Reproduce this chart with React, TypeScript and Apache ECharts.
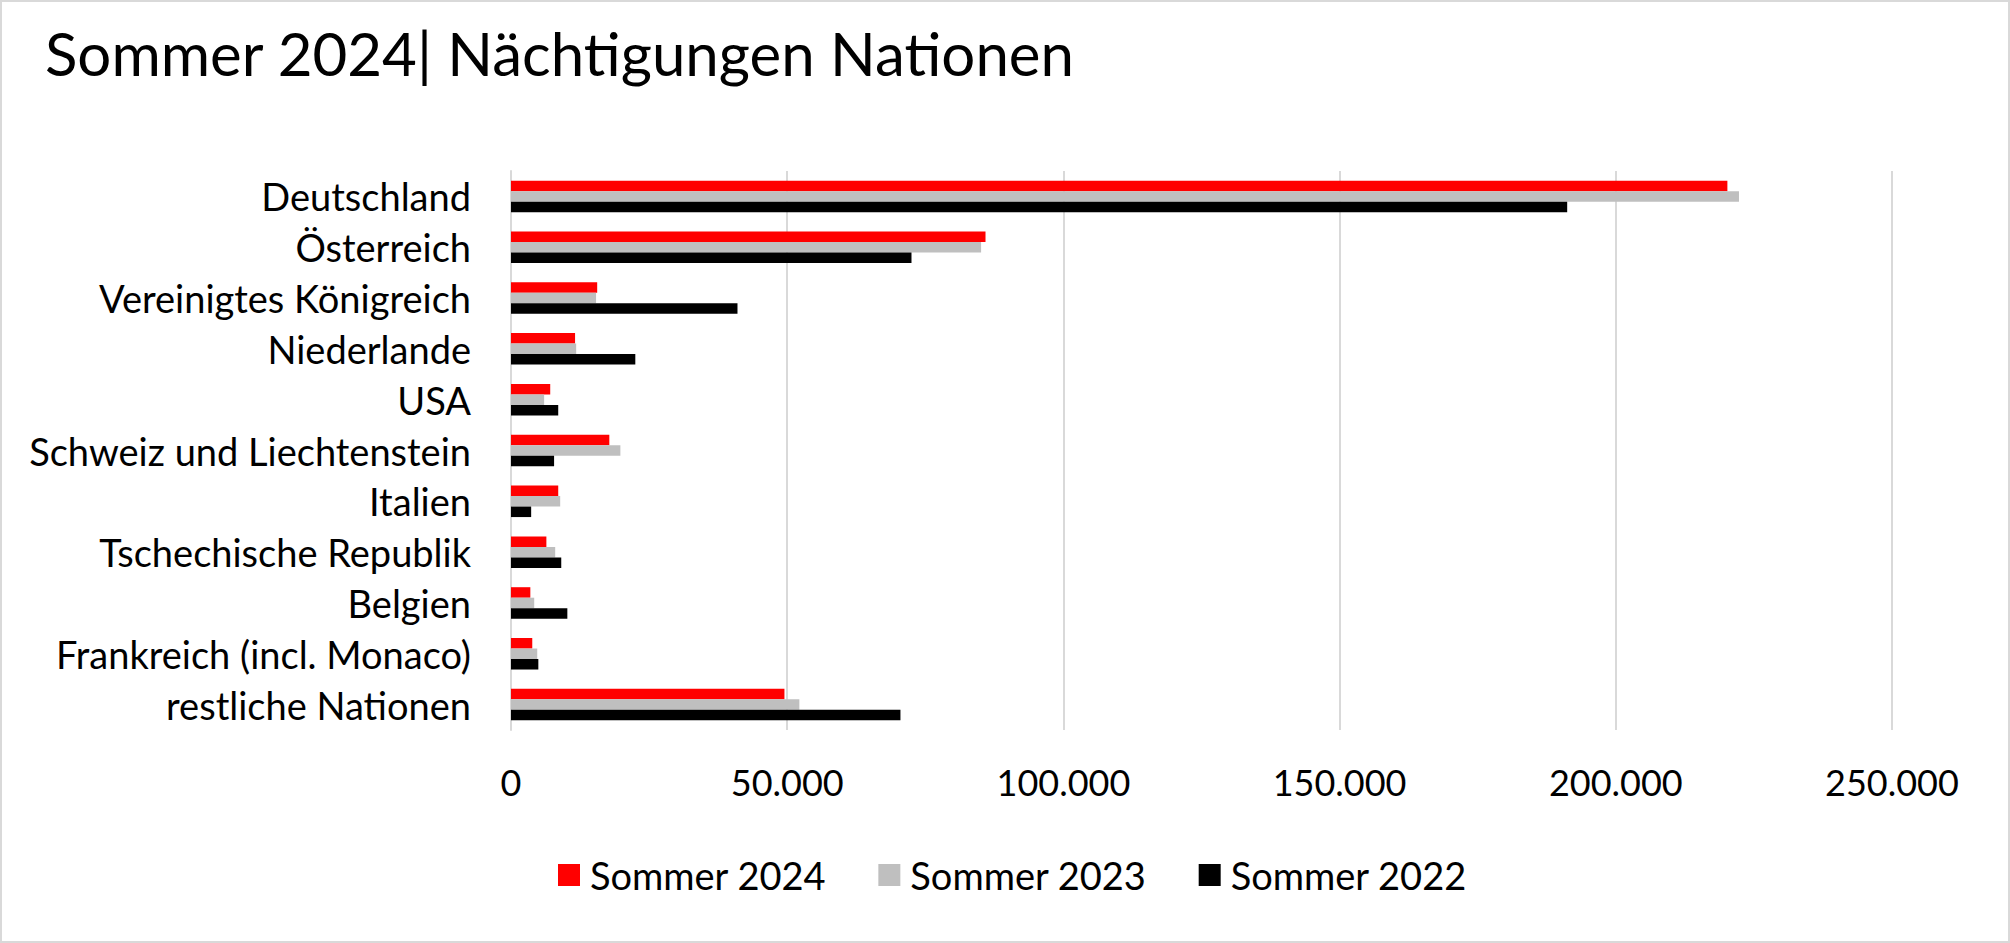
import React, { useEffect, useRef } from "react";
import * as echarts from "echarts";

const titleText = "Sommer 2024| Nächtigungen Nationen";
const categories = [
  "Deutschland",
  "Österreich",
  "Vereinigtes Königreich",
  "Niederlande",
  "USA",
  "Schweiz und Liechtenstein",
  "Italien",
  "Tschechische Republik",
  "Belgien",
  "Frankreich (incl. Monaco)",
  "restliche Nationen",
];
const seriesNames = ["Sommer 2024", "Sommer 2023", "Sommer 2022"];
const sommer2024 = [220200, 85900, 15600, 11600, 7100, 17800, 8550, 6400, 3500, 3850, 49500];
const sommer2023 = [222300, 85100, 15400, 11800, 6000, 19800, 8900, 8000, 4200, 4750, 52200];
const sommer2022 = [191200, 72500, 41000, 22500, 8550, 7800, 3650, 9100, 10200, 4950, 70500];
const seriesColors = ["#ff0000", "#bfbfbf", "#000000"];
const xMin = 0;
const xMax = 250000;
const xInterval = 50000;

const FONT = "Lato";

function fmt(v: number): string {
  return String(Math.round(v)).replace(/\B(?=(\d{3})+(?!\d))/g, ".");
}

export default function App() {
  const ref = useRef<HTMLDivElement>(null);
  useEffect(() => {
    if (!ref.current) return;
    const chart = echarts.init(ref.current, null, { renderer: "svg" });
    const values = [sommer2024, sommer2023, sommer2022];
    chart.setOption({
      animation: false,
      backgroundColor: "#ffffff",
      title: {
        text: titleText,
        left: 40,
        top: 18,
        textStyle: { fontFamily: FONT, fontSize: 60, fontWeight: "normal", color: "#000000" },
      },
      legend: {
        left: 553,
        top: 851,
        itemWidth: 22,
        itemHeight: 22,
        itemGap: 52,
        icon: "rect",
        data: seriesNames,
        textStyle: { fontFamily: FONT, fontSize: 38, color: "#000000", padding: [0, 0, 0, 5] },
      },
      grid: { left: 511, right: 118, top: 171, bottom: 213, containLabel: false },
      xAxis: {
        type: "value",
        min: xMin,
        max: xMax,
        interval: xInterval,
        axisLine: { show: false },
        axisTick: { show: false },
        splitLine: { show: true, lineStyle: { color: "#d9d9d9", width: 2 } },
        axisLabel: {
          fontFamily: FONT,
          fontSize: 36,
          color: "#000000",
          margin: 34,
          formatter: (v: number) => fmt(v),
        },
      },
      yAxis: {
        type: "category",
        inverse: true,
        data: categories,
        axisLine: { show: true, lineStyle: { color: "#d9d9d9", width: 2 } },
        axisTick: { show: false },
        axisLabel: { fontFamily: FONT, fontSize: 38, color: "#000000", margin: 40 },
      },
      series: seriesNames.map((name, i) => ({
        name,
        type: "bar",
        data: values[i],
        barWidth: 10.5,
        barGap: "0%",
        itemStyle: { color: seriesColors[i] },
      })),
      graphic: [
        {
          type: "rect",
          shape: { x: 1, y: 1, width: 2008, height: 941 },
          style: { fill: "none", stroke: "#d9d9d9", lineWidth: 2 },
          silent: true,
        },
      ],
    });
    return () => chart.dispose();
  }, []);
  return (
    <div
      ref={ref}
      style={{ position: "absolute", left: 0, top: 0, width: 2010, height: 943 }}
    />
  );
}
